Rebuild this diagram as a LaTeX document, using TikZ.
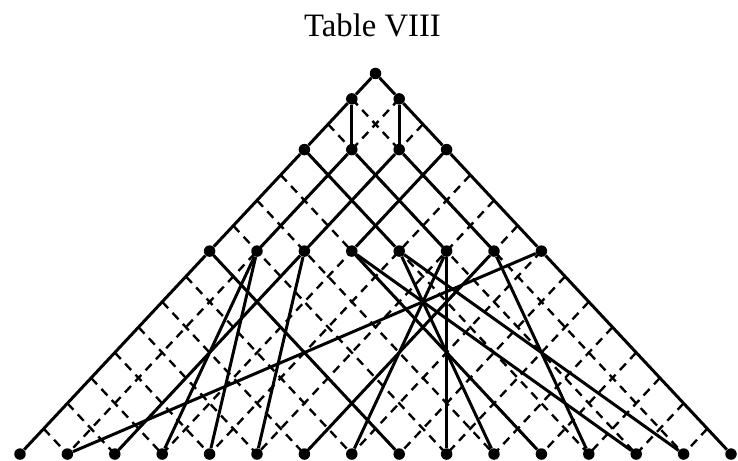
\documentclass[tikz,border=0pt]{standalone}
\usepackage{fontspec}
\setmainfont{Liberation Serif}

\begin{document}
\begin{tikzpicture}[
    x=0.474cm, y=-0.5074cm,
    dot/.style={circle, fill=black, inner sep=0pt, minimum size=0.23cm},
    link/.style={line width=1.7pt},
    grid line/.style={line width=1.35pt, dash pattern=on 5pt off 3.6pt},
  ]
  \useasboundingbox (-15.844,-2.897) rectangle (15.295,15.274);
  \node[font=\fontsize{18.6}{22}\selectfont, anchor=base] (title) at (-0.127,-1.45) {Table VIII};

  % dashed lattice
  \foreach \c in {2,4,...,28} {
    \draw[grid line] ({\c/2},{\c/2}) -- ({\c-15},15);
    \draw[grid line] ({-\c/2},{\c/2}) -- ({15-\c},15);
  }

  % dots, level by level
  \node[dot] (r) at (0,0) {};
  \node[dot] (p1) at (-1,1) {};
  \node[dot] (p2) at (1,1) {};
  \foreach \i in {1,...,4}
    \node[dot] (q\i) at ({2*\i-5},3) {};
  \foreach \i in {1,...,8}
    \node[dot] (s\i) at ({2*\i-9},7) {};
  \foreach \i in {1,...,16}
    \node[dot] (e\i) at ({2*\i-17},15) {};

  % solid links
  \draw[link] (r) -- (p1) -- (q1) -- (s1) -- (e1);
  \draw[link] (r) -- (p2) -- (q4) -- (s8) -- (e16);
  \foreach \a/\b in {p1/q2, p2/q3,
                     q1/s5, q2/s2, q2/s6, q3/s3, q3/s7, q4/s4,
                     s1/e9, s2/e4, s2/e5, s3/e3, s3/e6, s4/e12, s4/e14,
                     s5/e11, s5/e15, s6/e10, s6/e8, s7/e13, s7/e7, s8/e2}
    \draw[link] (\a) -- (\b);
\end{tikzpicture}
\end{document}
